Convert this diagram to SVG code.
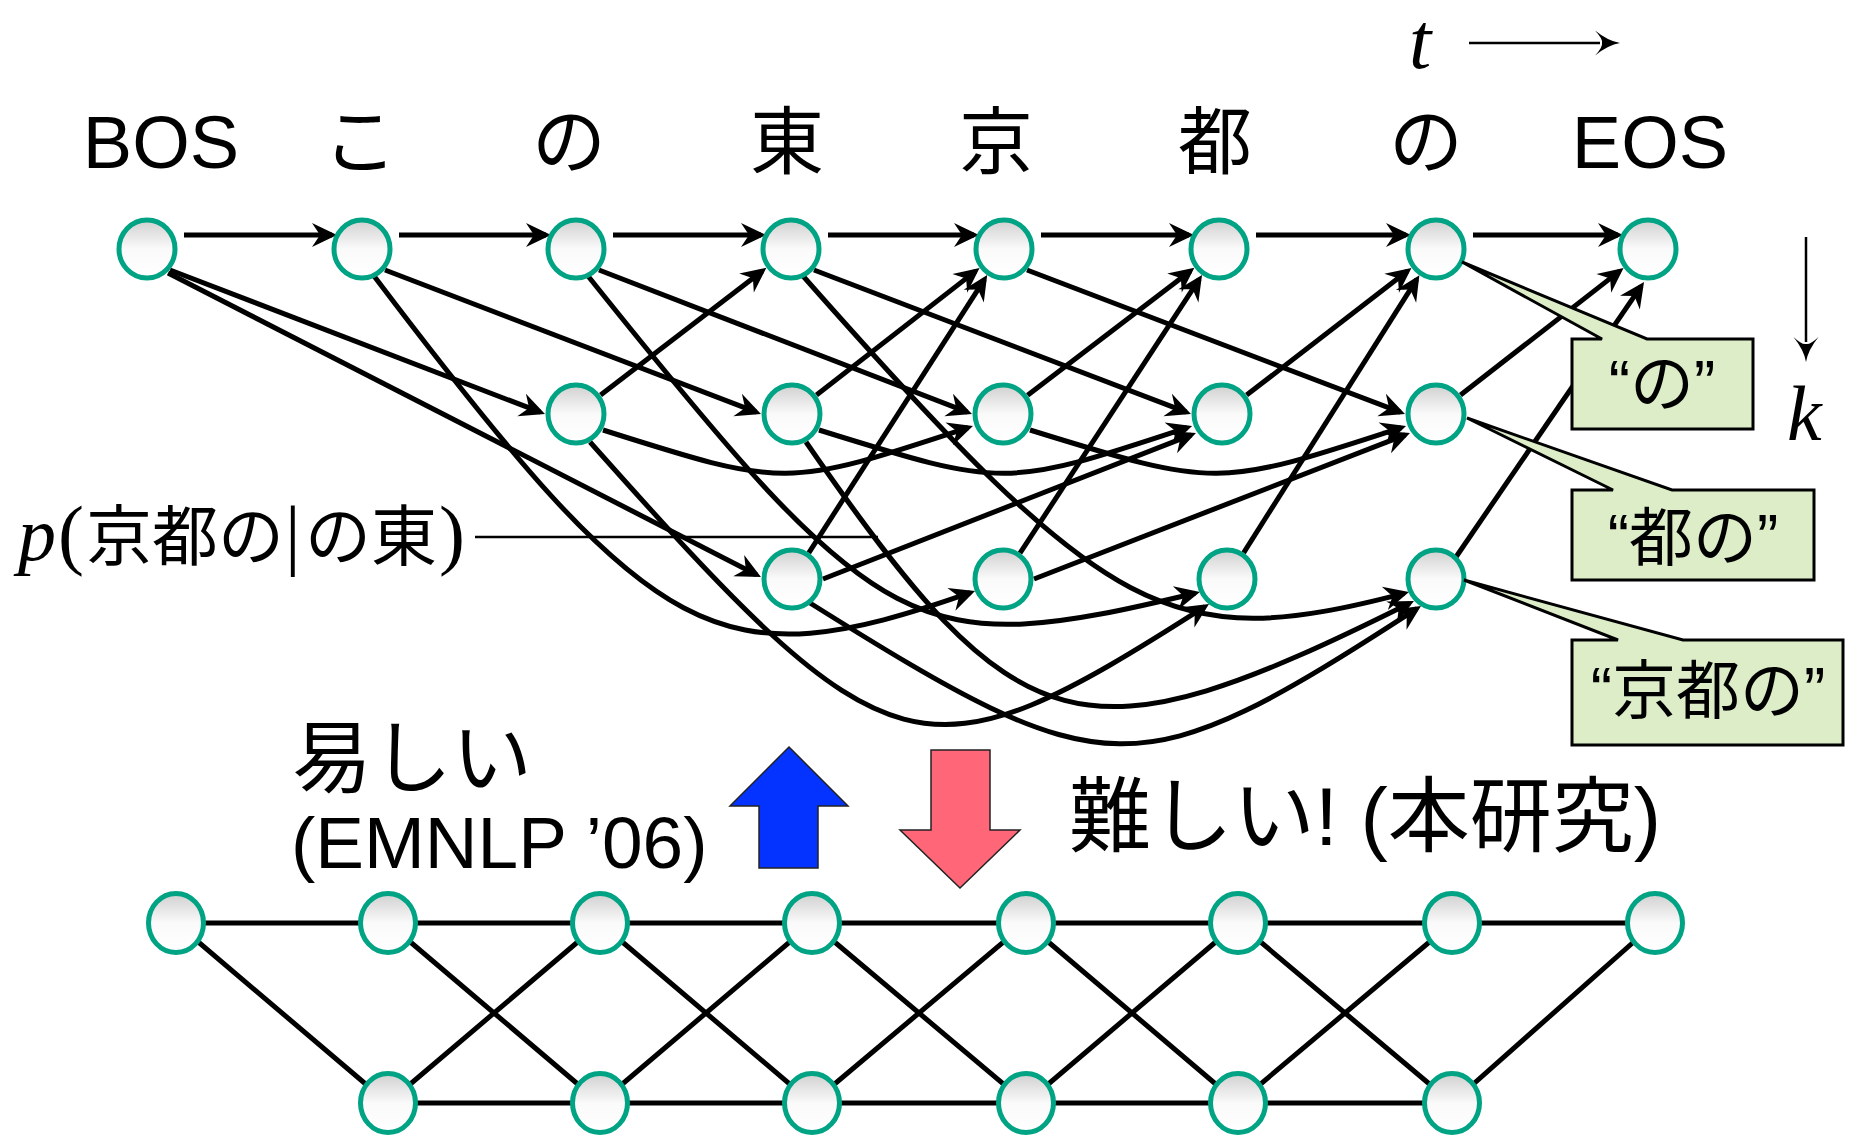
<svg xmlns="http://www.w3.org/2000/svg" width="1864" height="1137" viewBox="0 0 1864 1137">
<defs>
<linearGradient id="ng" x1="0" y1="0" x2="0" y2="1">
<stop offset="0" stop-color="#d0d0d0"/><stop offset="0.5" stop-color="#fafafa"/><stop offset="1" stop-color="#ffffff"/>
</linearGradient>
<marker id="ah" viewBox="-21 -13 27 26" refX="0" refY="0" markerWidth="27" markerHeight="26" markerUnits="userSpaceOnUse" orient="auto">
<path d="M5,0 L-20,-12 L-12,0 L-20,12 Z" fill="#000"/>
</marker>
<marker id="tah" viewBox="-6 -14 28 28" refX="0" refY="0" markerWidth="28" markerHeight="28" markerUnits="userSpaceOnUse" orient="auto">
<path d="M20,0 Q8,-2 -5,-12.5 Q3,-4 2,0 Q3,4 -5,12.5 Q8,2 20,0 Z" fill="#000"/>
</marker>
</defs>
<style>
.e{fill:none;stroke:#000;stroke-width:5;marker-end:url(#ah)}
.l{fill:none;stroke:#000;stroke-width:5}
.n{fill:url(#ng);stroke:#00a383;stroke-width:5}
.co{fill:#dcedc8;stroke:#000;stroke-width:3}
.lab{font-family:"Liberation Sans","Noto Sans CJK JP",sans-serif;fill:#000}
.cj{font-family:"Noto Sans CJK JP",sans-serif}
.mi{font-family:"Liberation Serif",serif;font-style:italic}
.ms{font-family:"Liberation Serif",serif}
.blk{stroke:#222;stroke-width:1.5}
</style>
<rect width="1864" height="1137" fill="#fff"/>

<g id="connectors">
<!-- horizontal k=1 chain -->
<path class="e" d="M184,235 H332"/>
<path class="e" d="M399,235 H546"/>
<path class="e" d="M613,235 H761"/>
<path class="e" d="M828,235 H974"/>
<path class="e" d="M1041,235 H1189"/>
<path class="e" d="M1256,235 H1406"/>
<path class="e" d="M1473,235 H1618"/>
<!-- top -> middle (skip 2) -->
<path class="e" d="M170,270 L540.3,412.2"/>
<path class="e" d="M385,270 L756.3,412.2"/>
<path class="e" d="M599,270 L967.3,412.2"/>
<path class="e" d="M814,270 L1186.3,412.2"/>
<path class="e" d="M1027,270 L1400.3,412.2"/>
<!-- BOS -> third row -->
<path class="e" d="M168,273 L756.5,574.7"/>
<!-- middle -> top -->
<path class="e" d="M600.6,395.1 L762.4,270.9"/>
<path class="e" d="M816.5,395 L975.6,271.1"/>
<path class="e" d="M1027.6,395.2 L1190.4,270.9"/>
<path class="e" d="M1246.6,395.1 L1407.5,271"/>
<path class="e" d="M1460.5,395 L1619.6,271.1"/>
<!-- third -> top -->
<path class="e" d="M808.8,552.9 L984.5,279.3"/>
<path class="e" d="M1020,553.1 L1199.3,279.1"/>
<path class="e" d="M1243.6,552.8 L1416.7,279.4"/>
<path class="e" d="M1456,557 L1641.2,286.1"/>
<!-- third -> middle -->
<path class="e" d="M823,579 L1191.3,434.8"/>
<path class="e" d="M1034,579 L1405.3,434.8"/>
<!-- middle -> middle curves -->
<path class="e" d="M603,430 C785.5,488 785.5,488 968.2,427.6"/>
<path class="e" d="M819,430 C1005,488 1005,488 1187.3,427.6"/>
<path class="e" d="M1030,430 C1217,488 1217,488 1401.3,427.6"/>
<!-- curves into third row -->
<path class="e" d="M374,276 C657.1,649.8 717.4,681.3 970.3,592.7"/>
<path class="e" d="M588,276 C883.2,645.1 914.7,660.6 1195.1,593.2"/>
<path class="e" d="M590,442 C890.4,779.9 921.3,788 1204.8,606.7"/>
<path class="e" d="M803,276 C1109.6,623.4 1170.2,654.1 1404.2,593.3"/>
<path class="e" d="M806,442 C1019.7,751.9 1080.5,767.2 1409.5,603.2"/>
<path class="e" d="M810,603 C1107,789.2 1136.6,790.3 1416.8,608.7"/>
<!-- annotation leader -->
<path d="M475,537 H878" fill="none" stroke="#000" stroke-width="2.5"/>
<!-- axis arrows -->
<path d="M1469,43 H1600" fill="none" stroke="#000" stroke-width="2.5" marker-end="url(#tah)"/>
<path d="M1806,237 V342" fill="none" stroke="#000" stroke-width="2.5" marker-end="url(#tah)"/>
<!-- bottom lattice -->
<path class="l" d="M176,923 H1655"/>
<path class="l" d="M388,1103 H1452"/>
<path class="l" d="M176,923 L388,1103 M388,923 L600,1103 M600,923 L812,1103 M812,923 L1026,1103 M1026,923 L1238,1103 M1238,923 L1452,1103"/>
<path class="l" d="M388,1103 L600,923 M600,1103 L812,923 M812,1103 L1026,923 M1026,1103 L1238,923 M1238,1103 L1452,923 M1452,1103 L1655,923"/>
</g>

<g id="node-t0"><ellipse class="n" cx="147" cy="249" rx="28" ry="29"/></g>
<g id="node-t1"><ellipse class="n" cx="362" cy="249" rx="28" ry="29"/></g>
<g id="node-t2"><ellipse class="n" cx="576" cy="249" rx="28" ry="29"/></g>
<g id="node-t3"><ellipse class="n" cx="791" cy="249" rx="28" ry="29"/></g>
<g id="node-t4"><ellipse class="n" cx="1004" cy="249" rx="28" ry="29"/></g>
<g id="node-t5"><ellipse class="n" cx="1219" cy="249" rx="28" ry="29"/></g>
<g id="node-t6"><ellipse class="n" cx="1436" cy="249" rx="28" ry="29"/></g>
<g id="node-t7"><ellipse class="n" cx="1648" cy="249" rx="28" ry="29"/></g>
<g id="node-m2"><ellipse class="n" cx="576" cy="414" rx="28" ry="29"/></g>
<g id="node-m3"><ellipse class="n" cx="792" cy="414" rx="28" ry="29"/></g>
<g id="node-m4"><ellipse class="n" cx="1003" cy="414" rx="28" ry="29"/></g>
<g id="node-m5"><ellipse class="n" cx="1222" cy="414" rx="28" ry="29"/></g>
<g id="node-m6"><ellipse class="n" cx="1436" cy="414" rx="28" ry="29"/></g>
<g id="node-l3"><ellipse class="n" cx="792" cy="579" rx="28" ry="29"/></g>
<g id="node-l4"><ellipse class="n" cx="1003" cy="579" rx="28" ry="29"/></g>
<g id="node-l5"><ellipse class="n" cx="1227" cy="579" rx="28" ry="29"/></g>
<g id="node-l6"><ellipse class="n" cx="1436" cy="579" rx="28" ry="29"/></g>

<g id="node-b0"><ellipse class="n" cx="176" cy="923" rx="27.5" ry="29.5"/></g>
<g id="node-b1"><ellipse class="n" cx="388" cy="923" rx="27.5" ry="29.5"/></g>
<g id="node-b2"><ellipse class="n" cx="600" cy="923" rx="27.5" ry="29.5"/></g>
<g id="node-b3"><ellipse class="n" cx="812" cy="923" rx="27.5" ry="29.5"/></g>
<g id="node-b4"><ellipse class="n" cx="1026" cy="923" rx="27.5" ry="29.5"/></g>
<g id="node-b5"><ellipse class="n" cx="1238" cy="923" rx="27.5" ry="29.5"/></g>
<g id="node-b6"><ellipse class="n" cx="1452" cy="923" rx="27.5" ry="29.5"/></g>
<g id="node-b7"><ellipse class="n" cx="1655" cy="923" rx="27.5" ry="29.5"/></g>
<g id="node-c1"><ellipse class="n" cx="388" cy="1103" rx="27.5" ry="29.5"/></g>
<g id="node-c2"><ellipse class="n" cx="600" cy="1103" rx="27.5" ry="29.5"/></g>
<g id="node-c3"><ellipse class="n" cx="812" cy="1103" rx="27.5" ry="29.5"/></g>
<g id="node-c4"><ellipse class="n" cx="1026" cy="1103" rx="27.5" ry="29.5"/></g>
<g id="node-c5"><ellipse class="n" cx="1238" cy="1103" rx="27.5" ry="29.5"/></g>
<g id="node-c6"><ellipse class="n" cx="1452" cy="1103" rx="27.5" ry="29.5"/></g>

<g id="callout-no">
<path class="co" d="M1572,339 H1602 L1462,262 L1647,339 H1753 V429 H1572 Z"/>
<text class="lab" x="1662" y="406" font-size="64" text-anchor="middle">“の”</text>
</g>
<g id="callout-tono">
<path class="co" d="M1572,490 H1613 L1467,418 L1672,490 H1814 V580 H1572 Z"/>
<text class="lab" x="1693" y="560" font-size="64" text-anchor="middle">“都の”</text>
</g>
<g id="callout-kyotono">
<path class="co" d="M1572,640 H1618 L1464,580 L1683,640 H1843 V745 H1572 Z"/>
<text class="lab" x="1708" y="713" font-size="64" text-anchor="middle">“京都の”</text>
</g>

<g id="labels" class="lab" font-size="74" text-anchor="middle">
<text x="161" y="168">BOS</text>
<text x="360" y="168">こ</text>
<text x="569" y="168">の</text>
<text x="787" y="168">東</text>
<text x="996" y="168">京</text>
<text x="1215" y="168">都</text>
<text x="1426" y="168">の</text>
<text x="1650" y="168">EOS</text>
</g>

<g id="axes">
<text class="mi" x="1409" y="68" font-size="80">t</text>
<text class="mi" x="1787" y="440" font-size="78">k</text>
</g>

<g id="prob-label">
<text y="560" font-size="66"><tspan class="mi" x="18" font-size="76">p</tspan><tspan class="ms" x="58" font-size="78">(</tspan><tspan class="cj" x="86">京都の</tspan><tspan class="ms" x="285" font-size="78">|</tspan><tspan class="cj" x="305">の東</tspan><tspan class="ms" x="439" font-size="78">)</tspan></text>
</g>

<g id="up-arrow">
<polygon class="blk" fill="#0433ff" points="789,747 848,806 818,806 818,868 759,868 759,806 730,806"/>
</g>
<g id="down-arrow">
<polygon class="blk" fill="#ff6677" points="931,750 990,750 990,830 1020,830 960,888 900,830 931,830"/>
</g>

<g id="captions" class="lab">
<text x="292" y="786" font-size="80">易しい</text>
<text x="291" y="868" font-size="73">(EMNLP ’06)</text>
<text x="1069" y="845" font-size="82">難しい! (本研究)</text>
</g>
</svg>
